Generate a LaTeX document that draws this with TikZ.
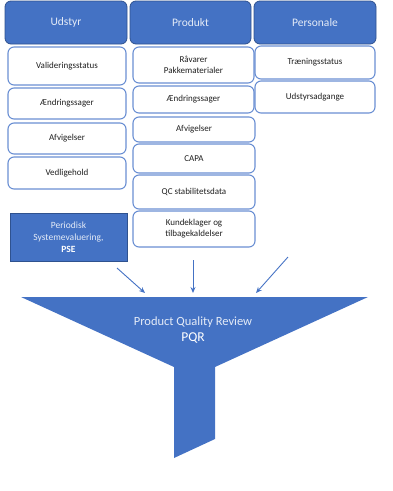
\documentclass[tikz,border=0pt]{standalone}
\usepackage{fontspec}
\setmainfont{Carlito}
\usetikzlibrary{arrows.meta}
\definecolor{ofblue}{HTML}{4472C4}
\definecolor{ofdark}{HTML}{2F528F}
\definecolor{ofedge}{HTML}{6A8FD3}
\definecolor{lighttxt}{HTML}{E4EBF7}
\definecolor{subtxt}{HTML}{202020}
\tikzset{
  header/.style={draw=ofdark, line width=0.8pt, fill=ofblue, rounded corners=6pt,
    text=lighttxt, font=\fontsize{11.5}{13}\selectfont, inner sep=0pt},
  sub/.style={draw=ofedge, line width=1.1pt, fill=white, rounded corners=6pt,
    text=subtxt, font=\fontsize{9}{11}\selectfont, align=center, inner sep=0pt},
  pse/.style={draw=ofdark, line width=0.8pt, fill=ofblue, align=center,
    text=lighttxt, font=\fontsize{9.5}{12}\selectfont, inner sep=0pt},
  feed/.style={draw=ofblue, line width=0.9pt, -{Stealth[length=6pt,width=5pt]}},
  funnel/.style={fill=ofblue, draw=none},
  funneltxt/.style={text=lighttxt, align=center, inner sep=0pt}
}
\begin{document}
\begin{tikzpicture}[x=1pt,y=-1pt]
\useasboundingbox (0,0) rectangle (393,491);
% headers
\node[header, minimum width=122pt, minimum height=43pt] (hU) at (66,22.5) {Udstyr};
\node[header, minimum width=121pt, minimum height=43pt] (hP) at (190.5,22.5) {Produkt};
\node[header, minimum width=122pt, minimum height=43pt] (hPe) at (315,22.5) {Personale};
% Udstyr column
\node[sub, minimum width=118pt, minimum height=38pt] (u1) at (67,66) {Valideringsstatus};
\node[sub, minimum width=118pt, minimum height=31pt] (u2) at (67,103.5) {Ændringssager};
\node[sub, minimum width=118pt, minimum height=31pt] (u3) at (67,138.5) {Afvigelser};
\node[sub, minimum width=118pt, minimum height=32pt] (u4) at (67,173) {Vedligehold};
\node[pse, minimum width=117pt, minimum height=48pt] (pse) at (68.5,237)
  {Periodisk\\Systemevaluering,\\{\color{white}\bfseries PSE}};
% Produkt column
\node[sub, minimum width=121pt, minimum height=36pt] (p1) at (193.5,65) {Råvarer\\Pakkematerialer};
\node[sub, minimum width=121pt, minimum height=27pt] (p2) at (193.5,99.5) {Ændringssager};
\node[sub, minimum width=122pt, minimum height=25pt] (p3) at (194,129.5) {Afvigelser};
\node[sub, minimum width=122pt, minimum height=29pt] (p4) at (194,158.5) {CAPA};
\node[sub, minimum width=122pt, minimum height=34pt] (p5) at (194,192) {QC stabilitetsdata};
\node[sub, minimum width=122pt, minimum height=36pt] (p6) at (194,229) {Kundeklager og\\tilbagekaldelser};
% Personale column
\node[sub, minimum width=120pt, minimum height=33pt] (e1) at (315,62.5) {Træningsstatus};
\node[sub, minimum width=120pt, minimum height=32pt] (e2) at (315,97) {Udstyrsadgange};
% arrows
\coordinate (a1s) at (117,268); \coordinate (a1e) at (145,293);
\coordinate (a2s) at (193,260); \coordinate (a2e) at (193,293);
\coordinate (a3s) at (288,257); \coordinate (a3e) at (256,293);
\draw[feed] (a1s) -- (a1e);
\draw[feed] (a2s) -- (a2e);
\draw[feed] (a3s) -- (a3e);
% funnel
\fill[funnel] (21,297) -- (368,297) -- (215,367) -- (215,439) -- (174,458) -- (174,367) -- cycle;
\node[funneltxt, font=\fontsize{12.5}{14}\selectfont] (pqr1) at (193,322) {Product Quality Review};
\node[funneltxt, font=\fontsize{13.5}{15}\selectfont, text=white] (pqr2) at (193,338.5) {PQR};
\end{tikzpicture}
\end{document}
